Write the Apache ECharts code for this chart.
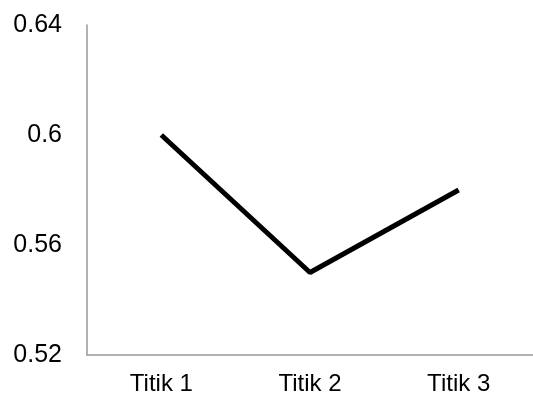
<!DOCTYPE html>
<html><head><meta charset="utf-8">
<script src="https://cdn.jsdelivr.net/npm/echarts@6/dist/echarts.min.js"></script>
<style>html,body{margin:0;padding:0;background:#fff}#c{width:533px;height:399px}</style>
</head><body><div id="c"></div>
<script>
var categories = ['Titik 1', 'Titik 2', 'Titik 3'];
var values = [0.60, 0.55, 0.58];
var yTicks = [0.52, 0.56, 0.6, 0.64];
var chart = echarts.init(document.getElementById('c'));
chart.setOption({
  animation: false,
  grid: {left: 87, right: 0, top: 25, bottom: 44},
  xAxis: {
    type: 'category', data: categories, boundaryGap: true,
    axisLine: {lineStyle: {color: '#999', width: 1.5}},
    axisTick: {show: false},
    axisLabel: {color: '#000', fontSize: 24, fontFamily: 'Liberation Sans, Arial', margin: 17}
  },
  yAxis: {
    type: 'value', min: 0.52, max: 0.64, interval: 0.04,
    axisLine: {show: true, lineStyle: {color: '#999', width: 1.5}},
    axisTick: {show: false},
    splitLine: {show: false},
    axisLabel: {color: '#000', fontSize: 25, fontFamily: 'Liberation Sans, Arial', margin: 25,
      formatter: function (v) { var s = String(parseFloat(v.toFixed(2))); return yTicks.indexOf(parseFloat(s)) >= 0 ? s : ''; }}
  },
  series: [{
    type: 'line', data: values, showSymbol: false,
    lineStyle: {color: '#000', width: 5}
  }]
});
</script></body></html>
